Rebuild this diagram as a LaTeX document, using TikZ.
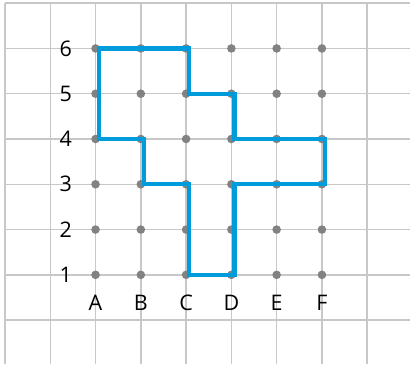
\documentclass[tikz,border=0pt]{standalone}
\usepackage{fontspec}
\setmainfont{Open Sans}
\usepackage{tikz}
\definecolor{gridgray}{RGB}{200,200,200}
\definecolor{dotgray}{RGB}{130,130,130}
\definecolor{shapeblue}{RGB}{0,155,218}
\tikzset{
    gridline/.style={gridgray, line width=0.9pt},
    label/.style={font=\fontsize{13.5}{15}\selectfont, inner sep=0pt}
}

\begin{document}
\begin{tikzpicture}
    \useasboundingbox (-1.11,-0.98) rectangle (7.945,7.07);
    \foreach \x in {-1,...,7} {
        \draw[gridline] (\x,-0.98) -- (\x,7);
    }
    \foreach \y in {0,...,7} {
        \draw[gridline] (-1,\y) -- (7.945,\y);
    }
    \foreach \x in {1,...,6} {
        \foreach \y in {1,...,6} {
            \fill[dotgray] (\x,\y) circle (0.095);
        }
    }
    \foreach \t [count=\r] in {A,B,C,D,E,F} {
        \node[label] (col-\t) at (\r,0.38) {\t};
    }
    \foreach \r in {1,...,6} {
        \node[label] (row-\r) at (0.34,\r) {\r};
    }
    \draw[shapeblue, line width=2.7pt, line join=miter, xshift=0.07cm]
        (1,6) -- (3,6) -- (3,5) -- (4,5) -- (4,4) -- (6,4) -- (6,3)
        -- (4,3) -- (4,1) -- (3,1) -- (3,3) -- (2,3) -- (2,4) -- (1,4) -- cycle;
\end{tikzpicture}
\end{document}
